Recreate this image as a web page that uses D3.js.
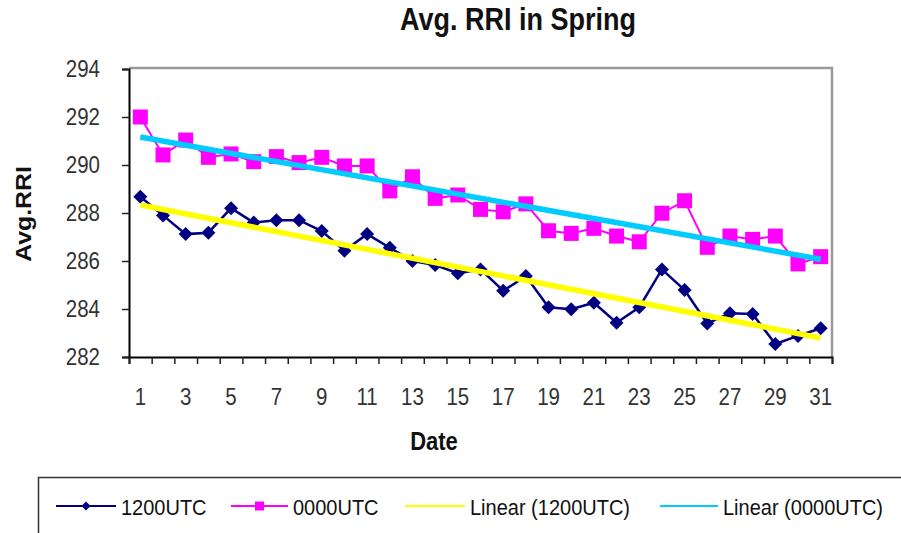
<!DOCTYPE html>
<html>
<head>
<meta charset="utf-8">
<script src="https://cdn.jsdelivr.net/npm/d3@7"></script>
<style>
  html, body { margin: 0; padding: 0; background: #fff; }
  svg { display: block; font-family: "Liberation Sans", Arial, sans-serif; }
</style>
</head>
<body>
<div id="chart"></div>
<script>
// Data
const days = [1, 2, 3, 4, 5, 6, 7, 8, 9, 10, 11, 12, 13, 14, 15, 16, 17, 18, 19, 20, 21, 22, 23, 24, 25, 26, 27, 28, 29, 30, 31];
const utc1200 = [288.68, 287.9, 287.12, 287.18, 288.2, 287.6, 287.7, 287.7, 287.25, 286.43, 287.12, 286.55, 286.0, 285.83, 285.49, 285.65, 284.76, 285.37, 284.07, 283.99, 284.26, 283.43, 284.07, 285.65, 284.79, 283.4, 283.82, 283.79, 282.54, 282.88, 283.2];
const utc0000 = [292.0, 290.42, 291.04, 290.32, 290.46, 290.14, 290.35, 290.1, 290.32, 289.96, 289.96, 288.92, 289.51, 288.61, 288.75, 288.15, 288.05, 288.38, 287.26, 287.15, 287.36, 287.04, 286.8, 287.99, 288.51, 286.57, 287.04, 286.9, 287.04, 285.88, 286.18];
const yTicks = [282, 284, 286, 288, 290, 292, 294];
const xLabels = [1, 3, 5, 7, 9, 11, 13, 15, 17, 19, 21, 23, 25, 27, 29, 31];
const legendNames = ["1200UTC", "0000UTC", "Linear (1200UTC)", "Linear (0000UTC)"];

const W = 901, H = 533;
const plot = {left: 129, right: 832, top: 68, bottom: 357};
const sy = 1.13;  // text in the picture is a bit taller than Arial

const navy = "#000080", pink = "#ff00ff", yellow = "#ffff00", sky = "#00ccff";

const svg = d3.select("#chart").append("svg")
    .attr("width", W).attr("height", H);

svg.append("rect").attr("width", W).attr("height", H).attr("fill", "#fff");

// scales
const x = d3.scaleBand().domain(days).range([plot.left, plot.right]);
const xEdge = d3.scaleLinear().domain([0, days.length]).range([plot.left, plot.right]);
const y = d3.scaleLinear().domain([282, 294]).range([plot.bottom, 69]);
const cx = d => x(d) + x.bandwidth() / 2;

// plot area border (grey, top and right)
svg.append("path")
    .attr("d", `M${plot.left},${plot.top}H${plot.right}V${plot.bottom}`)
    .attr("fill", "none").attr("stroke", "#9a9a9a").attr("stroke-width", 2.5);

// y axis
const yAxis = svg.append("g")
    .attr("transform", `translate(${plot.left},0)`)
    .call(d3.axisLeft(y).tickValues(yTicks).tickSize(7).tickPadding(22).tickFormat(d3.format("d")));
yAxis.select(".domain").attr("stroke", "#000").attr("stroke-width", 2);
yAxis.selectAll(".tick line").attr("stroke", "#222").attr("stroke-width", 1.5);
yAxis.selectAll(".tick text")
    .attr("font-size", 20.5).attr("fill", "#333")
    .attr("font-family", "Liberation Sans, Arial, sans-serif")
    .attr("transform", `scale(1,${sy})`);

// x axis: tick marks on category edges, labels on odd days
const xTickAxis = svg.append("g")
    .attr("transform", `translate(0,${plot.bottom})`)
    .call(d3.axisBottom(xEdge).tickValues(d3.range(0, days.length + 1)).tickSize(7).tickFormat(""));
xTickAxis.select(".domain").attr("stroke", "#000").attr("stroke-width", 2);
xTickAxis.selectAll(".tick line").attr("stroke", "#222").attr("stroke-width", 1.5);

const xLabelAxis = svg.append("g")
    .attr("transform", `translate(0,${plot.bottom})`)
    .call(d3.axisBottom(x).tickValues(xLabels).tickSize(0).tickPadding(27.5));
xLabelAxis.select(".domain").remove();
xLabelAxis.selectAll(".tick text")
    .attr("font-size", 20.5).attr("fill", "#333")
    .attr("font-family", "Liberation Sans, Arial, sans-serif")
    .attr("transform", `scale(1,${sy})`);

// helper for stretched text
function label(txt, tx, ty, size, weight, anchor, rot) {
    svg.append("text")
        .attr("transform", `translate(${tx},${ty}) scale(1,${sy})` + (rot ? ` rotate(${rot})` : ""))
        .attr("text-anchor", anchor)
        .attr("font-size", size)
        .attr("font-weight", weight)
        .attr("fill", "#111")
        .text(txt);
}

label("Avg. RRI in Spring", 518, 30, 27, "bold", "middle");
label("Date", 434, 450, 22, "bold", "middle");
label("Avg.RRI", 31, 214, 22, "bold", "middle", -90);

// series lines
const line = d3.line().x((d, i) => cx(days[i])).y(d => y(d));

svg.append("path").datum(utc1200)
    .attr("d", line).attr("fill", "none")
    .attr("stroke", navy).attr("stroke-width", 2.5);

svg.selectAll(".dia").data(utc1200).enter().append("path")
    .attr("class", "dia")
    .attr("transform", (d, i) => `translate(${cx(days[i])},${y(d)})`)
    .attr("d", "M0,-7L7,0L0,7L-7,0Z")
    .attr("fill", navy);

svg.append("path").datum(utc0000)
    .attr("d", line).attr("fill", "none")
    .attr("stroke", pink).attr("stroke-width", 2);

svg.selectAll(".sq").data(utc0000).enter().append("rect")
    .attr("class", "sq")
    .attr("x", (d, i) => cx(days[i]) - 7.5)
    .attr("y", d => y(d) - 7.5)
    .attr("width", 15).attr("height", 15)
    .attr("fill", pink);

// linear trendlines (least squares, like the spreadsheet)
function fit(vals) {
    const mx = d3.mean(days), my = d3.mean(vals);
    const sxy = d3.sum(days, (d, i) => (d - mx) * (vals[i] - my));
    const sxx = d3.sum(days, d => (d - mx) * (d - mx));
    const b = sxy / sxx;
    return d => my + b * (d - mx);
}
[[utc1200, yellow], [utc0000, sky]].forEach(([vals, col]) => {
    const f = fit(vals);
    const first = days[0], last = days[days.length - 1];
    svg.append("line")
        .attr("x1", cx(first)).attr("y1", y(f(first)))
        .attr("x2", cx(last)).attr("y2", y(f(last)))
        .attr("stroke", col).attr("stroke-width", 5.5);
});

// legend
svg.append("rect")
    .attr("x", 38.5).attr("y", 477.5).attr("width", 900).attr("height", 100)
    .attr("fill", "#fff").attr("stroke", "#333").attr("stroke-width", 1.5);

const legendItems = [
    {name: legendNames[0], col: navy, x0: 56, x1: 116, mark: "dia", w: 2},
    {name: legendNames[1], col: pink, x0: 231, x1: 288, mark: "sq", w: 2},
    {name: legendNames[2], col: yellow, x0: 405, x1: 465, mark: null, w: 2},
    {name: legendNames[3], col: sky, x0: 660, x1: 718, mark: null, w: 2}
];
const ly = 506;
const lg = svg.append("g");
legendItems.forEach(it => {
    lg.append("line").attr("x1", it.x0).attr("x2", it.x1).attr("y1", ly).attr("y2", ly)
        .attr("stroke", it.col).attr("stroke-width", it.w);
    const mx = (it.x0 + it.x1) / 2;
    if (it.mark === "dia") {
        lg.append("path").attr("transform", `translate(${mx},${ly})`)
            .attr("d", "M0,-4.5L4.5,0L0,4.5L-4.5,0Z").attr("fill", it.col);
    } else if (it.mark === "sq") {
        lg.append("rect").attr("x", mx - 4.5).attr("y", ly - 4.5).attr("width", 9).attr("height", 9)
            .attr("fill", it.col);
    }
    lg.append("text")
        .attr("transform", `translate(${it.x1 + 5},515) scale(1,${sy})`)
        .attr("font-size", 20).attr("fill", "#111")
        .text(it.name);
});
</script>
</body>
</html>
